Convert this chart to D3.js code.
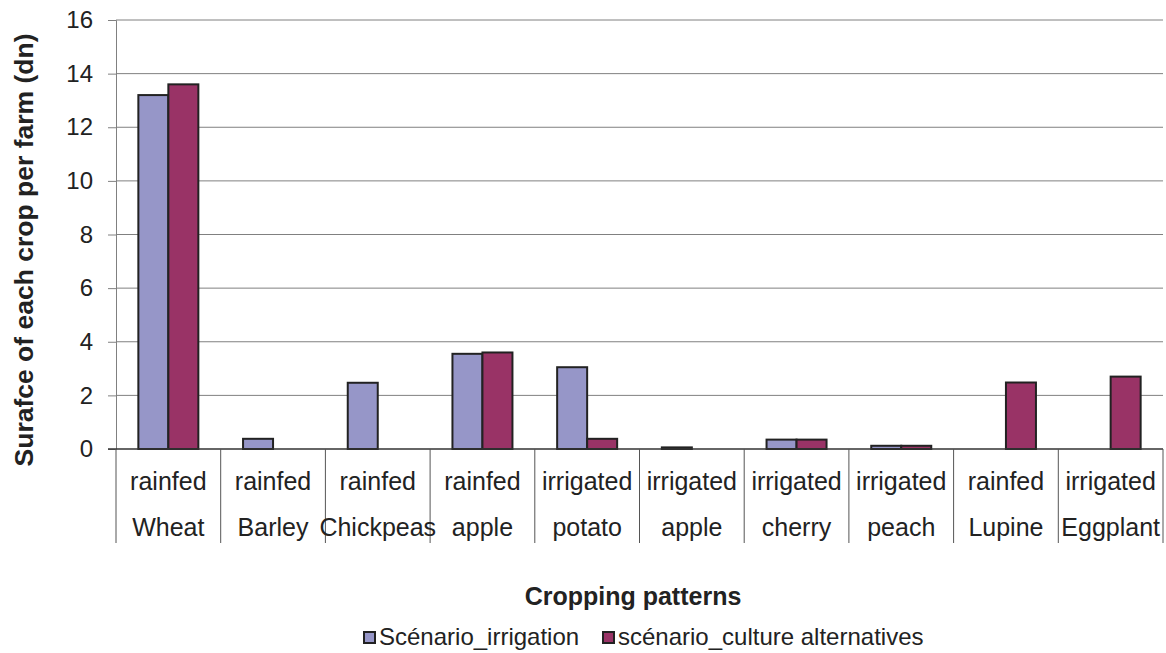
<!DOCTYPE html>
<html><head><meta charset="utf-8">
<script src="https://cdn.jsdelivr.net/npm/d3@7"></script>
<style>body{margin:0;background:#fff}svg{display:block;font-family:"Liberation Sans",Arial,sans-serif}</style>
</head><body>
<svg id="c" width="1166" height="653"></svg>
<script>
const crops = ["Wheat","Barley","Chickpeas","apple","potato","apple","cherry","peach","Lupine","Eggplant"];
const regimes = ["rainfed","rainfed","rainfed","rainfed","irrigated","irrigated","irrigated","irrigated","rainfed","irrigated"];
const seriesNames = ["Scénario_irrigation","scénario_culture alternatives"];
const irrigation = [13.2,0.38,2.47,3.55,3.05,0.06,0.35,0.12,0,0];
const alternatives = [13.6,0,0,3.6,0.38,0,0.35,0.12,2.48,2.7];
const yTicks = [0,2,4,6,8,10,12,14,16];
const colors = ["#9696C8","#993366"];

const svg = d3.select("#c");
const L=116,R=1163,T=20,B=449;
const idx = d3.range(crops.length);
const x = d3.scaleBand().domain(idx).range([L,R]).padding(0);
const xs = d3.scaleBand().domain([0,1]).range([0,x.bandwidth()]).paddingInner(0).paddingOuter(0.745);
const y = d3.scaleLinear().domain([0,16]).range([B,T]);

// gridlines
svg.append("g").selectAll("line").data(yTicks.filter(d=>d>0)).join("line")
  .attr("x1",L).attr("x2",R).attr("y1",d=>y(d)).attr("y2",d=>y(d))
  .attr("stroke","#808080").attr("stroke-width",1);

// y axis
const yAxis = d3.axisLeft(y).tickValues(yTicks).tickSize(8).tickPadding(15).tickFormat(d3.format("d"));
const ya = svg.append("g").attr("transform",`translate(${L},0)`).call(yAxis);
ya.select(".domain").attr("stroke","#808080");
ya.selectAll(".tick line").attr("stroke","#808080");
ya.selectAll("text").attr("font-size",24).attr("fill","#222").attr("font-family","Liberation Sans, Arial");

// bars
const data = [irrigation, alternatives];
data.forEach((vals,s)=>{
  svg.append("g").selectAll("rect").data(idx.filter(i=>vals[i]>0)).join("rect")
    .attr("x",i=>x(i)+xs(s)).attr("width",xs.bandwidth())
    .attr("y",i=>y(vals[i])).attr("height",i=>B-y(vals[i]))
    .attr("fill",colors[s]).attr("stroke","#222").attr("stroke-width",2);
});

// baseline
svg.append("line").attr("x1",L-8).attr("x2",R).attr("y1",B).attr("y2",B).attr("stroke","#333").attr("stroke-width",1.5);

// category table separators
const sepBottom = 543;
svg.append("g").selectAll("line").data(d3.range(crops.length+1)).join("line")
  .attr("x1",i=>i<crops.length?x(i):R).attr("x2",i=>i<crops.length?x(i):R)
  .attr("y1",B).attr("y2",sepBottom).attr("stroke","#555").attr("stroke-width",1);

// labels
svg.append("g").selectAll("text").data(idx).join("text")
  .attr("x",i=>x(i)+x.bandwidth()/2).attr("y",490).attr("text-anchor","middle")
  .attr("font-size",25).attr("fill","#222").text(i=>regimes[i]);
svg.append("g").selectAll("text").data(idx).join("text")
  .attr("x",i=>x(i)+x.bandwidth()/2).attr("y",536).attr("text-anchor","middle")
  .attr("font-size",25).attr("fill","#222").text(i=>crops[i]);

// axis titles
svg.append("text").attr("transform",`translate(33,250) rotate(-90)`).attr("text-anchor","middle")
  .attr("font-size",26.5).attr("font-weight","bold").attr("fill","#222").text("Surafce of each crop per farm (dn)");
svg.append("text").attr("x",633).attr("y",605).attr("text-anchor","middle")
  .attr("font-size",25).attr("font-weight","bold").attr("fill","#222").text("Cropping patterns");

// legend
const lg = svg.append("g");
const legX = [364, 603];
seriesNames.forEach((n,s)=>{
  lg.append("rect").attr("x",legX[s]).attr("y",632).attr("width",11).attr("height",11)
    .attr("fill",colors[s]).attr("stroke","#222").attr("stroke-width",2);
  lg.append("text").attr("x",legX[s]+15).attr("y",645).attr("font-size",24).attr("fill","#222").text(n);
});
</script>
</body></html>
